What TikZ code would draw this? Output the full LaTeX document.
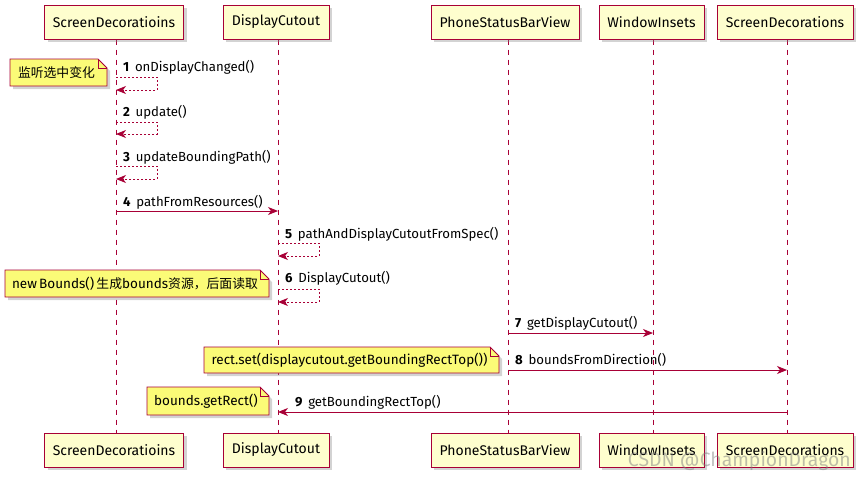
\documentclass[tikz,border=0pt]{standalone}
\usepackage{fontspec}
\setmainfont{Fira Sans}
\newfontfamily\cjk[Scale=0.95]{Noto Sans CJK SC}
\usetikzlibrary{arrows.meta,shadows}
\pgfdeclarelayer{lifelayer}
\pgfdeclarelayer{background}
\pgfsetlayers{lifelayer,background,main}
\definecolor{umlred}{HTML}{A80036}
\definecolor{partfill}{HTML}{FEFECE}
\definecolor{notefill}{HTML}{FBFB77}
\tikzset{
  part/.style={draw=umlred, fill=partfill, line width=1pt, minimum height=34pt,
    font=\fontsize{14}{16}\selectfont, inner sep=0pt,
    drop shadow={opacity=0.35, shadow xshift=3pt, shadow yshift=-3pt}},
  lifeline/.style={draw=umlred, line width=0.8pt, dash pattern=on 5pt off 5pt},
  msglabel/.style={anchor=west, font=\fontsize{13.2}{15}\selectfont, inner sep=0pt},
  callarrow/.style={draw=umlred, line width=0.9pt, -{Stealth[length=10pt,width=8pt,inset=3pt]}},
  replyarrow/.style={draw=umlred, line width=0.9pt, dash pattern=on 2pt off 2pt,
    -{Stealth[length=10pt,width=8pt,inset=3pt]}},
  notetext/.style={font=\fontsize{13.5}{15}\selectfont, inner sep=0pt},
  noteshape/.style={draw=umlred, fill=notefill, line width=0.8pt,
    drop shadow={opacity=0.35, shadow xshift=3pt, shadow yshift=-3pt}},
}
% note: corners (x1,y1) top-left, (x2,y2) bottom-right
\newcommand{\umlnote}[6]{%
  \node[notetext] (#1) at ({(#2+#4)/2-2}, {(#3+#5)/2}) {#6};
  \begin{pgfonlayer}{background}
    \path[noteshape] (#2,#3) -- ({#4-9},#3) -- (#4,{#3+9}) -- (#4,#5) -- (#2,#5) -- cycle;
    \draw[umlred, line width=0.8pt] ({#4-9},#3) -- ({#4-9},{#3+9}) -- (#4,{#3+9});
  \end{pgfonlayer}
}
\begin{document}
\begin{tikzpicture}[x=1pt,y=-1pt]
\useasboundingbox (0,0) rectangle (865,479);

% participants top
\node[part, minimum width=139pt] (sdT) at (114,22) {ScreenDecoratioins};
\node[part, minimum width=106pt] (dcT) at (276,22) {DisplayCutout};
\node[part, minimum width=148pt] (psT) at (505,22) {PhoneStatusBarView};
\node[part, minimum width=105pt] (wiT) at (651.5,22) {WindowInsets};
\node[part, minimum width=136pt] (scT) at (785,22) {ScreenDecorations};
% participants bottom
\node[part, minimum width=139pt] (sdB) at (114,450) {ScreenDecoratioins};
\node[part, minimum width=106pt] (dcB) at (276,450) {DisplayCutout};
\node[part, minimum width=148pt] (psB) at (505,450) {PhoneStatusBarView};
\node[part, minimum width=105pt] (wiB) at (651.5,450) {WindowInsets};
\node[part, minimum width=136pt] (scB) at (785,450) {ScreenDecorations};

% lifeline x positions
\coordinate (sdX) at (116,0);
\coordinate (dcX) at (278,0);
\coordinate (psX) at (508,0);
\coordinate (wiX) at (653,0);
\coordinate (scX) at (787,0);

\begin{pgfonlayer}{lifelayer}
\draw[lifeline] (sdX |- sdT.south) -- (sdX |- sdB.north);
\draw[lifeline] (dcX |- dcT.south) -- (dcX |- dcB.north);
\draw[lifeline] (psX |- psT.south) -- (psX |- psB.north);
\draw[lifeline] (wiX |- wiT.south) -- (wiX |- wiB.north);
\draw[lifeline] (scX |- scT.south) -- (scX |- scB.north);
\end{pgfonlayer}

% message 1
\node[msglabel] (m1) at (123,67) {\textbf{1}\, onDisplayChanged()};
\coordinate (m1a) at (116,77); \coordinate (m1b) at (116,90);
\draw[replyarrow] (m1a) -- (157,77) -- (157,90) -- (m1b);
% message 2
\node[msglabel] (m2) at (123,112) {\textbf{2}\, update()};
\coordinate (m2a) at (116,122); \coordinate (m2b) at (116,134);
\draw[replyarrow] (m2a) -- (157,122) -- (157,134) -- (m2b);
% message 3
\node[msglabel] (m3) at (123,157) {\textbf{3}\, updateBoundingPath()};
\coordinate (m3a) at (116,166); \coordinate (m3b) at (116,179);
\draw[replyarrow] (m3a) -- (157,166) -- (157,179) -- (m3b);
% message 4
\node[msglabel] (m4) at (123,202) {\textbf{4}\, pathFromResources()};
\coordinate (m4a) at (116,211); \coordinate (m4b) at (278,211);
\draw[callarrow] (m4a) -- (m4b);
% message 5
\node[msglabel] (m5) at (285,234) {\textbf{5}\, pathAndDisplayCutoutFromSpec()};
\coordinate (m5a) at (278,243); \coordinate (m5b) at (278,256);
\draw[replyarrow] (m5a) -- (319,243) -- (319,256) -- (m5b);
% message 6
\node[msglabel] (m6) at (285,278) {\textbf{6}\, DisplayCutout()};
\coordinate (m6a) at (278,289); \coordinate (m6b) at (278,302);
\draw[replyarrow] (m6a) -- (319,289) -- (319,302) -- (m6b);
% message 7
\node[msglabel] (m7) at (515,323) {\textbf{7}\, getDisplayCutout()};
\coordinate (m7a) at (508,333); \coordinate (m7b) at (653,333);
\draw[callarrow] (m7a) -- (m7b);
% message 8
\node[msglabel] (m8) at (515,360) {\textbf{8}\, boundsFromDirection()};
\coordinate (m8a) at (508,370); \coordinate (m8b) at (787,370);
\draw[callarrow] (m8a) -- (m8b);
% message 9
\node[msglabel] (m9) at (295,402) {\textbf{9}\, getBoundingRectTop()};
\coordinate (m9a) at (787,412); \coordinate (m9b) at (278,412);
\draw[callarrow] (m9a) -- (m9b);

% notes
\umlnote{n1}{10}{59}{107}{86}{\cjk 监听选中变化}
\umlnote{n2}{5}{270}{269}{297}{new\,Bounds()\,{\cjk 生成}bounds{\cjk 资源，后面读取}}
\umlnote{n3}{204}{347}{499}{373}{rect.set(displaycutout.getBoundingRectTop())}
\umlnote{n4}{147}{387}{269}{415}{bounds.getRect()}

% watermark
\node[font=\fontsize{19.4}{22}\selectfont, text=gray, opacity=0.5, anchor=east, inner sep=0pt] (wm) at (851,461) {CSDN @ChampionDragon};
\end{tikzpicture}
\end{document}
